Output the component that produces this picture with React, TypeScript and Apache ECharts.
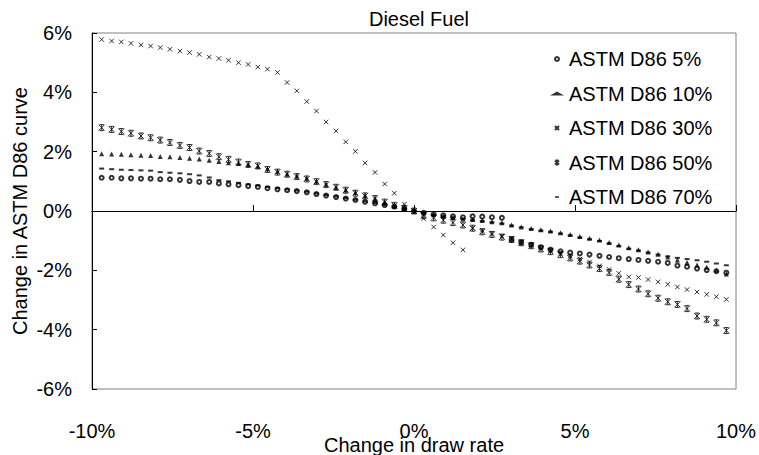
import React, { useEffect, useRef } from "react";
import * as echarts from "echarts";

// Change in draw rate (%), shared by every series
const drawRate = [
  -9.70, -9.39, -9.09, -8.79, -8.48, -8.18, -7.88, -7.58, -7.27, -6.97, -6.67,
  -6.36, -6.06, -5.76, -5.45, -5.15, -4.85, -4.55, -4.24, -3.94, -3.64, -3.33,
  -3.03, -2.73, -2.42, -2.12, -1.82, -1.52, -1.21, -0.91, -0.61, -0.30, 0,
  0.30, 0.61, 0.91, 1.21, 1.52, 1.82, 2.12, 2.42, 2.73, 3.03, 3.33,
  3.64, 3.94, 4.24, 4.55, 4.85, 5.15, 5.45, 5.76, 6.06, 6.36, 6.67,
  6.97, 7.27, 7.58, 7.88, 8.18, 8.48, 8.79, 9.09, 9.39, 9.70,
];

// Change in ASTM D86 curve (%)
const d86_5 = [
  1.12, 1.12, 1.10, 1.10, 1.09, 1.09, 1.07, 1.07, 1.05, 1.01, 0.98, 0.98, 0.93,
  0.90, 0.87, 0.84, 0.81, 0.77, 0.73, 0.70, 0.67, 0.63, 0.57, 0.52, 0.47, 0.42,
  0.37, 0.31, 0.26, 0.20, 0.15, 0.08, 0,
  -0.06, -0.11, -0.15, -0.18, -0.21, -0.18, -0.19, -0.21, -0.23, -0.97, -1.06,
  -1.14, -1.22, -1.30, -1.36, -1.40, -1.43, -1.47, -1.51, -1.55, -1.59, -1.62,
  -1.65, -1.68, -1.71, -1.75, -1.84, -1.88, -1.94, -1.99, -2.03, -2.08,
];
const d86_10 = [
  1.93, 1.92, 1.91, 1.90, 1.88, 1.87, 1.84, 1.83, 1.80, 1.78, 1.75, 1.71, 1.67,
  1.63, 1.60, 1.57, 1.51, 1.42, 1.34, 1.25, 1.18, 1.10, 1.00, 0.90, 0.80, 0.71,
  0.62, 0.52, 0.42, 0.30, 0.19, 0.09, 0,
  -0.07, -0.13, -0.18, -0.22, -0.26, -0.29, -0.32, -0.36, -0.40, -0.47, -0.54,
  -0.59, -0.63, -0.67, -0.73, -0.79, -0.86, -0.92, -0.98, -1.06, -1.15, -1.24,
  -1.31, -1.38, -1.46, -1.55, -1.65, -1.74, -1.82, -1.90, -1.99, -2.12,
];
const d86_30 = [
  5.78, 5.73, 5.70, 5.65, 5.60, 5.56, 5.51, 5.45, 5.39, 5.34, 5.28, 5.19, 5.14,
  5.08, 5.00, 4.94, 4.85, 4.78, 4.67, 4.33, 4.05, 3.69, 3.37, 3.00, 2.70, 2.33,
  2.01, 1.62, 1.30, 0.91, 0.60, 0.23, 0,
  -0.26, -0.54, -0.81, -1.07, -1.31, -0.58, -0.65, -0.76, -0.84, -0.93, -1.04,
  -1.13, -1.24, -1.33, -1.43, -1.52, -1.62, -1.72, -1.85, -1.97, -2.10, -2.22,
  -2.24, -2.31, -2.39, -2.47, -2.56, -2.65, -2.73, -2.81, -2.89, -2.98,
];
const d86_50 = [
  2.81, 2.75, 2.68, 2.62, 2.53, 2.47, 2.39, 2.31, 2.21, 2.14, 2.02, 1.94, 1.83,
  1.74, 1.65, 1.57, 1.52, 1.40, 1.31, 1.24, 1.16, 1.08, 0.99, 0.89, 0.80, 0.70,
  0.60, 0.51, 0.42, 0.30, 0.19, 0.09, 0,
  -0.15, -0.23, -0.31, -0.39, -0.47, -0.58, -0.70, -0.79, -0.88, -0.96, -1.07,
  -1.17, -1.28, -1.37, -1.47, -1.58, -1.69, -1.82, -1.94, -2.07, -2.30, -2.48,
  -2.63, -2.79, -2.94, -3.06, -3.15, -3.29, -3.54, -3.65, -3.77, -4.03,
];
const d86_70 = [
  1.43, 1.41, 1.39, 1.38, 1.37, 1.36, 1.31, 1.29, 1.27, 1.24, 1.20, 1.13, 1.04,
  1.00, 0.95, 0.90, 0.86, 0.81, 0.77, 0.73, 0.69, 0.65, 0.59, 0.54, 0.49, 0.44,
  0.38, 0.32, 0.27, 0.21, 0.15, 0.08, 0,
  -0.07, -0.13, -0.18, -0.22, -0.27, -0.31, -0.34, -0.38, -0.42, -0.49, -0.55,
  -0.61, -0.66, -0.70, -0.76, -0.82, -0.89, -0.95, -1.01, -1.09, -1.18, -1.27,
  -1.33, -1.40, -1.47, -1.53, -1.58, -1.62, -1.66, -1.71, -1.77, -1.83,
];

const seriesNames = [
  "ASTM D86 5%",
  "ASTM D86 10%",
  "ASTM D86 30%",
  "ASTM D86 50%",
  "ASTM D86 70%",
];

// Stroke-only marker outlines
const CROSS = "path://M0,0L8,8M8,0L0,8";
const STAR = "path://M0,0L8,8M8,0L0,8M4,0L4,8M1,0L7,0M1,8L7,8";
const DASH = "path://M0,0M10,10M0,3L10,3L10,7L0,7Z";

const FONT = "'Liberation Sans', Arial, sans-serif";

const pairs = (ys: number[]) => drawRate.map((x, i) => [x, ys[i]]);
const pct = (v: number) => `${Math.round(v)}%`;

export default function App() {
  const ref = useRef<HTMLDivElement>(null);

  useEffect(() => {
    if (!ref.current) return;
    document.body.style.margin = "0";
    const chart = echarts.init(ref.current, undefined, { renderer: "svg" });

    const stroked = { color: "#000", borderColor: "#000", borderWidth: 1 };

    chart.setOption({
      animation: false,
      backgroundColor: "#fff",
      textStyle: { fontFamily: FONT, color: "#000" },
      title: {
        text: "Diesel Fuel",
        left: 414,
        textAlign: "center",
        top: 4,
        textStyle: { fontFamily: FONT, fontSize: 20, fontWeight: "normal", color: "#000" },
      },
      legend: {
        orient: "vertical",
        left: 550,
        top: 49,
        padding: 0,
        itemWidth: 14,
        itemHeight: 4,
        itemGap: 14.5,
        textStyle: { fontFamily: FONT, fontSize: 20, color: "#000", lineHeight: 20 },
        data: seriesNames,
      },
      grid: {
        left: 92,
        right: 23,
        top: 33,
        bottom: 66,
        outerBoundsMode: "none",
        containLabel: false,
        show: true,
        borderColor: "#808080",
        borderWidth: 1,
        backgroundColor: "#fff",
      },
      xAxis: [
        {
          type: "value",
          min: -10,
          max: 10,
          interval: 5,
          axisLine: { onZero: true, lineStyle: { color: "#000", width: 1 } },
          axisTick: { inside: true, length: 6, lineStyle: { color: "#000" } },
          axisLabel: { show: false },
          splitLine: { show: false },
        },
        {
          type: "value",
          position: "bottom",
          min: -10,
          max: 10,
          interval: 5,
          axisLine: { show: false, onZero: false },
          axisTick: { show: false },
          axisLabel: {
            margin: 32,
            fontFamily: FONT,
            fontSize: 20,
            color: "#000",
            formatter: pct,
          },
          splitLine: { show: false },
          name: "Change in draw rate",
          nameLocation: "middle",
          nameGap: 46,
          nameMoveOverlap: false,
          nameTextStyle: { fontFamily: FONT, fontSize: 20, color: "#000" },
        },
      ],
      yAxis: {
        type: "value",
        min: -6,
        max: 6,
        interval: 2,
        axisLine: { show: true, onZero: false, lineStyle: { color: "#000", width: 1 } },
        axisTick: { show: true, inside: true, length: 5, lineStyle: { color: "#000" } },
        axisLabel: {
          margin: 20,
          fontFamily: FONT,
          fontSize: 20,
          color: "#000",
          formatter: pct,
        },
        splitLine: { show: false },
        name: "Change in ASTM D86 curve",
        nameLocation: "middle",
        nameGap: 62,
        nameMoveOverlap: false,
        nameTextStyle: { fontFamily: FONT, fontSize: 20, color: "#000" },
      },
      series: [
        {
          name: seriesNames[0],
          type: "scatter",
          xAxisIndex: 0,
          data: pairs(d86_5),
          symbol: "emptyCircle",
          symbolSize: 4,
          itemStyle: { color: "#000", borderColor: "#000", borderWidth: 0.7 },
        },
        {
          name: seriesNames[1],
          type: "scatter",
          xAxisIndex: 0,
          data: pairs(d86_10),
          symbol: "triangle",
          symbolSize: 5,
          itemStyle: { color: "#000" },
        },
        {
          name: seriesNames[2],
          type: "scatter",
          xAxisIndex: 0,
          data: pairs(d86_30),
          symbol: CROSS,
          symbolSize: 4.5,
          itemStyle: stroked,
        },
        {
          name: seriesNames[3],
          type: "scatter",
          xAxisIndex: 0,
          data: pairs(d86_50),
          symbol: STAR,
          symbolSize: 6,
          itemStyle: stroked,
        },
        {
          name: seriesNames[4],
          type: "scatter",
          xAxisIndex: 0,
          data: pairs(d86_70),
          symbol: DASH,
          symbolSize: 5,
          itemStyle: { color: "#000" },
        },
      ],
    });

    return () => chart.dispose();
  }, []);

  return <div ref={ref} style={{ width: 759, height: 455 }} />;
}
